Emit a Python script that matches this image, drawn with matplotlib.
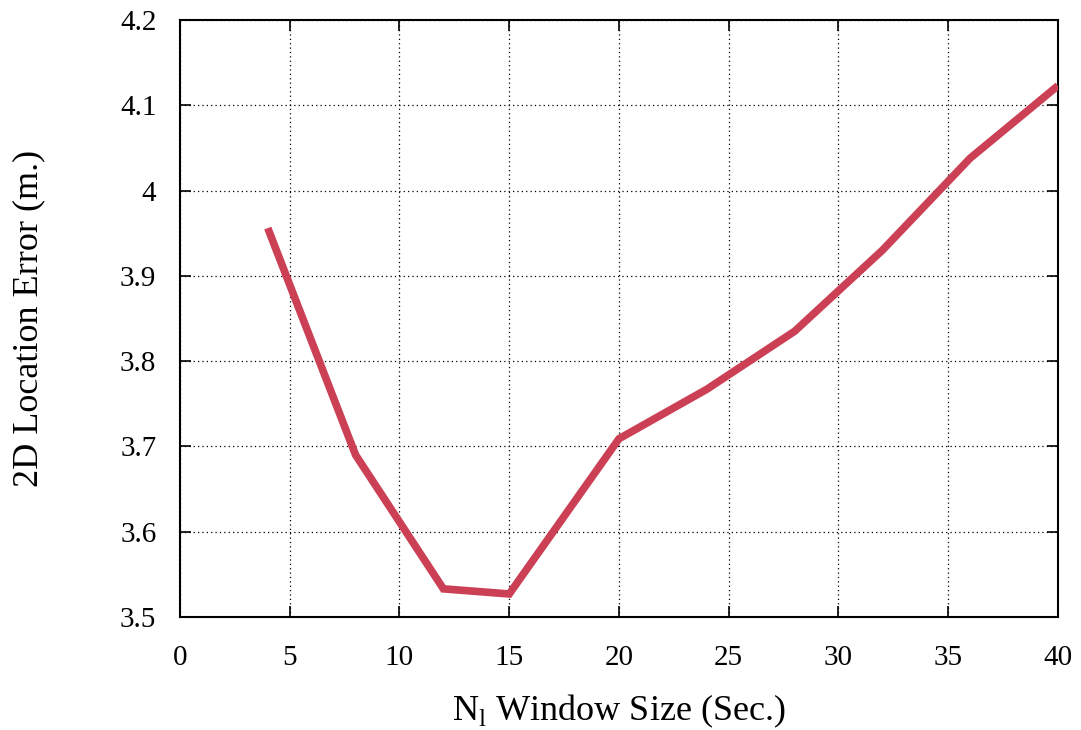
import matplotlib
matplotlib.use("Agg")
import matplotlib.pyplot as plt

# Window size (seconds) vs. mean 2D location error (metres)
window_size = [4, 8, 12, 15, 20, 24, 28, 32, 36, 40]
location_error = [3.956, 3.690, 3.533, 3.527, 3.709, 3.767, 3.835, 3.930, 4.038, 4.123]

x_ticks = [0, 5, 10, 15, 20, 25, 30, 35, 40]
y_ticks = [3.5, 3.6, 3.7, 3.8, 3.9, 4.0, 4.1, 4.2]
y_tick_labels = ["3.5", "3.6", "3.7", "3.8", "3.9", "4", "4.1", "4.2"]

plt.rcParams["font.family"] = ["Liberation Serif", "DejaVu Serif"]
plt.rcParams["mathtext.fontset"] = "custom"
plt.rcParams["mathtext.rm"] = "Liberation Serif"

fig = plt.figure(figsize=(10.81, 7.30), dpi=100)
ax = fig.add_axes([0.1665, 0.1548, 0.8122, 0.8178])

ax.plot(window_size, location_error, color="#CC4055", linewidth=5.5,
        solid_joinstyle="miter", solid_capstyle="butt", zorder=3)

ax.set_xlim(0, 40)
ax.set_ylim(3.5, 4.2)
ax.set_xticks(x_ticks)
ax.set_yticks(y_ticks)
ax.set_yticklabels(y_tick_labels)

ax.grid(True, linestyle=(0, (1, 2.5)), color="black", linewidth=0.9)
ax.tick_params(direction="in", length=8, width=1.2, top=True, right=True,
               labelsize=21)
ax.tick_params(axis="x", pad=20)
ax.tick_params(axis="y", pad=17)
for s in ax.spines.values():
    s.set_linewidth(1.5)

ax.set_xlabel(r"N$_{\mathrm{l}}$ Window Size (Sec.)", fontsize=26, labelpad=16)
ax.set_ylabel("2D Location Error (m.)", fontsize=26, labelpad=54)

fig.savefig("out.png", dpi=100)
